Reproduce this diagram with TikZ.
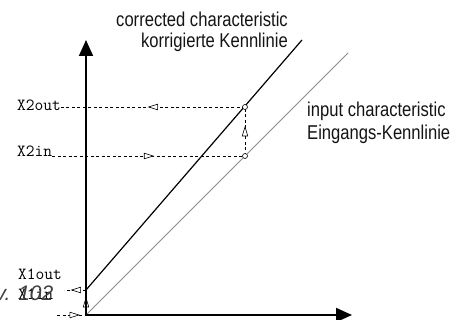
\documentclass[tikz,border=0pt]{standalone}
\usepackage{fontspec}
\newfontfamily\condfont[FakeStretch=0.83]{Liberation Sans}
\newfontfamily\figfont{Liberation Sans}
\usetikzlibrary{arrows.meta,decorations.markings}
\begin{document}
\begin{tikzpicture}[x=1pt,y=1pt,
  axis/.style={line width=1.8pt, -{Triangle[length=16pt,width=14pt]}},
  guide/.style={line width=0.6pt, dash pattern=on 3pt off 2.5pt},
  midtri/.style={postaction={decorate},decoration={markings,
     mark=at position #1 with {\draw[solid,fill=white,line width=0.6pt]
       (-4.5pt,-2.8pt) -- (4.5pt,0pt) -- (-4.5pt,2.8pt) -- cycle;}}},
  dot/.style={circle, draw, fill=white, line width=0.6pt, inner sep=0pt, minimum size=5pt},
  tt/.style={font=\ttfamily\fontsize{17}{17}\selectfont, inner sep=0pt},
  captext/.style={font=\condfont\fontsize{20}{22}\selectfont, inner sep=0pt, text=black!92}
]
\useasboundingbox (0,0) rectangle (460,320);
\clip (0,0) rectangle (460,320);

\coordinate (O) at (86,5);
\coordinate (YT) at (86,280);
\coordinate (XT) at (352,5);
\coordinate (B0) at (86,30);
\coordinate (B1) at (302,280);
\coordinate (G1) at (348,267);
\coordinate (P2o) at (245,213);
\coordinate (P2i) at (245,164);
\coordinate (c1o) at (64,30);
\coordinate (c1i) at (57,5);

% labels
\node[tt, anchor=base west] (l2o) at (17,209) {X2out};
\node[tt, anchor=base west] (l2i) at (17,163) {X2in};
\node[tt, anchor=base west] (l1o) at (18,40) {X1out};
\node[tt, anchor=base west] (l1i) at (18,20) {X1in};
\node[font=\figfont\itshape\fontsize{21}{21}\selectfont, anchor=base east, inner sep=0pt, text=black!75] (fig) at (53.5,19) {v. 102};

% guides
\draw[guide, midtri=0.5] (P2o) -- (l2o.east |- P2o);
\draw[guide, midtri=0.5] (l2i.east |- P2i) -- (P2i);
\draw[guide, midtri=0.5] (P2i) -- (P2o);
\draw[guide, midtri=0.45] (B0) -- (c1o);
\draw[guide, midtri=0.6] (c1i) -- (O);
\path[midtri=0.5] (O) -- (B0);

% characteristics
\draw[black!45, line width=0.8pt] (O) -- (G1);
\draw[black, line width=1.2pt] (B0) -- (B1);

% axes
\draw[axis] (O) -- (YT);
\draw[axis] (O) -- (XT);

\node[dot] (d2o) at (P2o) {};
\node[dot] (d2i) at (P2i) {};

% texts
\node[captext, anchor=base east] (t1) at (288,293) {corrected characteristic};
\node[captext, anchor=base east] (t2) at (288,272) {korrigierte Kennlinie};
\node[captext, anchor=base west] (t3) at (307,203) {input characteristic};
\node[captext, anchor=base west] (t4) at (307,180) {Eingangs-Kennlinie};
\end{tikzpicture}
\end{document}
